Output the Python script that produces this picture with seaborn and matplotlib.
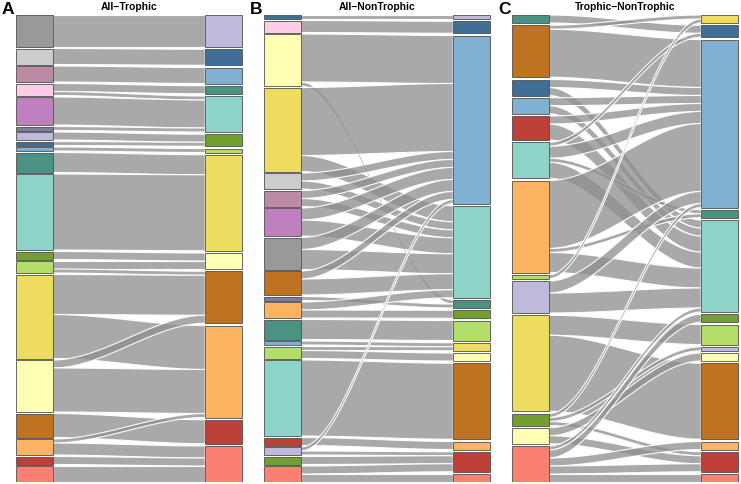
import numpy as np
import matplotlib
matplotlib.use("Agg")
import matplotlib.pyplot as plt
from matplotlib.patches import Rectangle, Polygon
import seaborn as sns

sns.set_theme(style="white")
plt.rcParams['font.family'] = ['Liberation Sans', 'DejaVu Sans']

COLORS = {
    "gray": "#999999", "lgray": "#CCCCCC", "mauve": "#BC8AA2", "pink": "#FCCDE5",
    "purple": "#BF80BF", "slate": "#7C7C9C", "lavender": "#BEBADA", "dblue": "#3F6F96",
    "lblue": "#80B1D3", "teal": "#4A9281", "aqua": "#8DD3C7", "dgreen": "#71A02E",
    "lgreen": "#B3DE69", "yellow": "#EDDC5F", "lyellow": "#FFFFB3", "brown": "#BE7323",
    "orange": "#FDB462", "dred": "#BF4036", "salmon": "#FB8072",
}

# ---------------- Panel A : All -> Trophic ----------------
a_title = "All\u2212Trophic"
a_left = ["gray", "lgray", "mauve", "pink", "purple", "slate", "lavender", "dblue", "lblue",
          "teal", "aqua", "dgreen", "lgreen", "yellow", "lyellow", "brown", "orange", "dred", "salmon"]
a_right = ["lavender", "dblue", "lblue", "teal", "aqua", "dgreen", "lgreen", "yellow",
           "lyellow", "brown", "orange", "dred", "salmon"]
a_src = ["gray", "lgray", "mauve", "pink", "pink", "purple", "slate", "lavender", "dblue",
         "lblue", "teal", "aqua", "dgreen", "lgreen", "lgreen", "yellow", "yellow",
         "lyellow", "lyellow", "brown", "orange", "orange", "dred", "salmon"]
a_dst = ["lavender", "dblue", "lblue", "teal", "aqua", "aqua", "aqua", "dgreen", "dgreen",
         "lgreen", "yellow", "yellow", "lyellow", "lyellow", "brown", "brown", "orange",
         "brown", "orange", "dred", "orange", "salmon", "salmon", "salmon"]
a_n = [8, 4, 4, 2, 1, 7, 1, 2, 1, 1, 5, 19, 2, 2, 1, 10, 11, 2, 11, 6, 1, 3, 2, 4]

# ---------------- Panel B : All -> NonTrophic ----------------
b_title = "All\u2212NonTrophic"
b_left = ["dblue", "pink", "lyellow", "yellow", "lgray", "mauve", "purple", "gray", "brown",
          "slate", "orange", "teal", "lblue", "lgreen", "aqua", "dred", "lavender", "dgreen", "salmon"]
b_right = ["lavender", "dblue", "lblue", "aqua", "teal", "dgreen", "lgreen", "yellow",
           "lyellow", "brown", "orange", "dred", "salmon"]
b_src = ["dblue", "pink", "lyellow", "lyellow", "yellow", "yellow", "lgray", "lgray",
         "mauve", "mauve", "purple", "purple", "gray", "gray", "brown", "brown", "slate",
         "orange", "orange", "teal", "lblue", "lgreen", "lgreen", "aqua", "dred",
         "lavender", "lavender", "dgreen", "salmon", "salmon"]
b_dst = ["lavender", "dblue", "lblue", "teal", "lblue", "aqua", "lblue", "aqua",
         "lblue", "aqua", "lblue", "aqua", "lblue", "aqua", "lblue", "aqua", "teal",
         "aqua", "dgreen", "lgreen", "yellow", "yellow", "lyellow", "brown", "orange",
         "lblue", "dred", "dred", "dred", "salmon"]
b_n = [1, 3, 12, 1, 17, 4, 2, 2, 2, 2, 3, 4, 3, 5, 2, 4, 1, 2, 2, 5, 1, 1, 2, 19, 2,
       1, 1, 2, 2, 2]

# ---------------- Panel C : Trophic -> NonTrophic ----------------
c_title = "Trophic\u2212NonTrophic"
c_left = ["teal", "brown", "dblue", "lblue", "dred", "aqua", "orange", "lgreen", "lavender",
          "yellow", "dgreen", "lyellow", "salmon"]
c_right = ["yellow", "dblue", "lblue", "teal", "aqua", "dgreen", "lgreen", "lavender",
           "lyellow", "brown", "orange", "dred", "salmon"]
c_src = ["teal", "brown", "brown", "dblue", "dblue", "lblue", "lblue", "dred", "dred",
         "aqua", "aqua", "aqua", "aqua", "orange", "orange", "orange", "lgreen",
         "lavender", "lavender", "yellow", "yellow", "dgreen", "dgreen", "dgreen",
         "lyellow", "lyellow", "salmon", "salmon", "salmon", "salmon", "salmon"]
c_dst = ["dblue", "yellow", "lblue", "lblue", "aqua", "lblue", "aqua", "lblue", "aqua",
         "dblue", "lblue", "teal", "aqua", "lblue", "teal", "aqua", "yellow",
         "lblue", "aqua", "lgreen", "brown", "lblue", "lavender", "dred",
         "lyellow", "dred", "aqua", "dgreen", "orange", "dred", "salmon"]
c_n = [2, 1, 12, 2, 2, 2, 2, 2, 4, 1, 3, 1, 4, 17, 1, 5, 1, 3, 5, 5, 19, 1, 1, 1,
       2, 2, 1, 2, 2, 2, 2]

GAP_TOTAL = 6.75      # total gap per axis, in count units
BW = 37 / 227         # stratum width as a fraction of panel width
FLOW_FC = (0.565, 0.565, 0.565, 0.77)


def stack(order, sizes):
    gap = GAP_TOTAL / (len(order) - 1)
    pos, y = {}, 0.0
    for c in order:
        pos[c] = y
        y += sizes[c] + gap
    return pos


def draw_panel(ax, left, right, src, dst, n):
    lsz = {c: 0 for c in left}
    rsz = {c: 0 for c in right}
    for s, d, k in zip(src, dst, n):
        lsz[s] += k
        rsz[d] += k
    total = sum(n)
    lpos = stack(left, lsz)
    rpos = stack(right, rsz)
    idx = range(len(n))
    lorder = sorted(idx, key=lambda i: (left.index(src[i]), right.index(dst[i])))
    rorder = sorted(idx, key=lambda i: (right.index(dst[i]), left.index(src[i])))
    ly, ry = {}, {}
    cur = dict(lpos)
    for i in lorder:
        ly[i] = cur[src[i]]
        cur[src[i]] += n[i]
    cur = dict(rpos)
    for i in rorder:
        ry[i] = cur[dst[i]]
        cur[dst[i]] += n[i]
    t = np.linspace(0, 1, 80)
    s = t * t * (3 - 2 * t)
    x = BW + (1 - 2 * BW) * t
    for i in idx:
        top = ly[i] + (ry[i] - ly[i]) * s
        bot = ly[i] + n[i] + (ry[i] - ly[i]) * s
        verts = np.vstack([np.column_stack([x, top]), np.column_stack([x[::-1], bot[::-1]])])
        ax.add_patch(Polygon(verts, closed=True, facecolor=FLOW_FC,
                             edgecolor=(1, 1, 1, 0.95), lw=0.8, zorder=2))
    for c in left:
        ax.add_patch(Rectangle((0, lpos[c]), BW, lsz[c], facecolor=COLORS[c],
                               edgecolor=(0.3, 0.3, 0.3, 0.85), lw=0.7, zorder=3))
    for c in right:
        ax.add_patch(Rectangle((1 - BW, rpos[c]), BW, rsz[c], facecolor=COLORS[c],
                               edgecolor=(0.3, 0.3, 0.3, 0.85), lw=0.7, zorder=3))
    ax.set_xlim(-0.004, 1.004)
    ax.set_ylim(total + GAP_TOTAL, 0)
    ax.axis("off")


W, H = 741, 484
fig = plt.figure(figsize=(W / 100, H / 100), dpi=100)
panels = [
    (15, a_title, "A", a_left, a_right, a_src, a_dst, a_n),
    (263, b_title, "B", b_left, b_right, b_src, b_dst, b_n),
    (511, c_title, "C", c_left, c_right, c_src, c_dst, c_n),
]
for x0, title, letter, left, right, src, dst, n in panels:
    ax = fig.add_axes([x0 / W, 2 / H, 228 / W, 467 / H])
    draw_panel(ax, left, right, src, dst, n)
    fig.text((x0 + 114) / W, 1 - 6.5 / H, title, ha="center", va="center",
             fontsize=7.4, fontweight="bold", color="black")
    fig.text((x0 - 13) / W, 1 - 9.5 / H, letter, ha="left", va="center",
             fontsize=12.5, fontweight="bold", color="black")

fig.savefig("out.png", dpi=100, facecolor="white")
